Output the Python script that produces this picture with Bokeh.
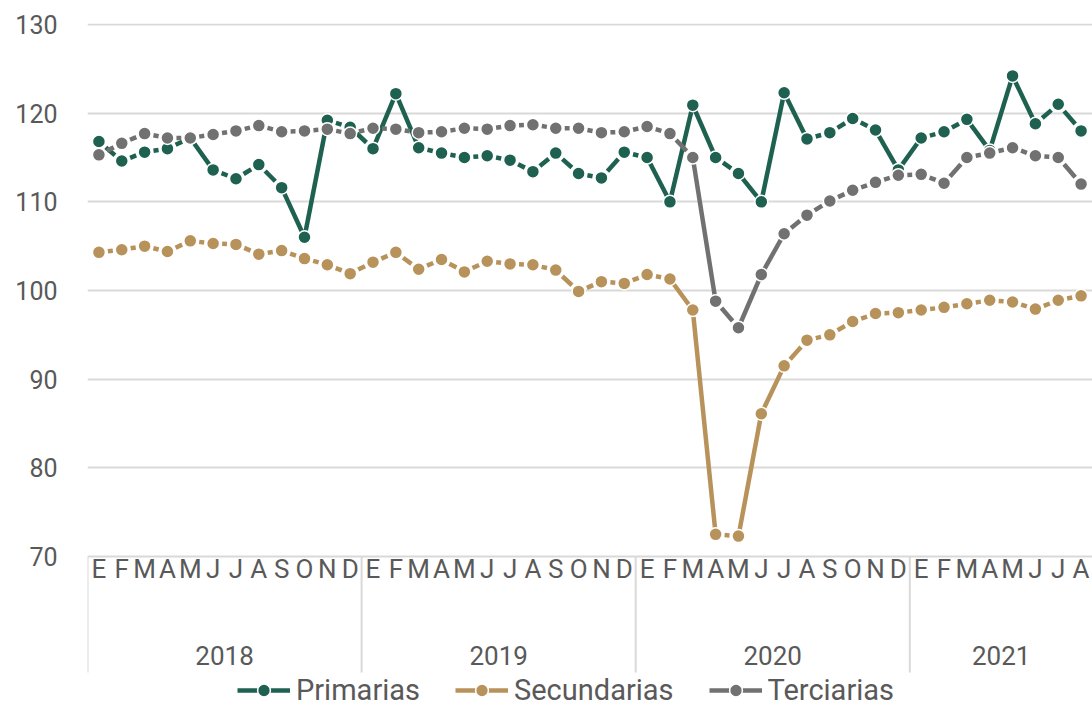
import numpy as np
from bokeh.plotting import figure
from bokeh.models import FixedTicker, Range1d, Legend, LegendItem
from bokeh.core.properties import value
from bokeh.embed import file_html
from bokeh.resources import INLINE

# ---------------- data ----------------
month_letters = ["E", "F", "M", "A", "M", "J", "J", "A", "S", "O", "N", "D"]
years = ["2018", "2019", "2020", "2021"]

primarias = [116.8, 114.6, 115.6, 116.0, 117.2, 113.6, 112.6, 114.2, 111.6, 106.0, 119.2, 118.4,
             116.0, 122.2, 116.1, 115.5, 115.0, 115.2, 114.7, 113.4, 115.5, 113.2, 112.7, 115.6,
             115.0, 110.0, 120.9, 115.0, 113.2, 110.0, 122.3, 117.1, 117.8, 119.4, 118.1, 113.6,
             117.2, 117.9, 119.3, 115.8, 124.2, 118.8, 121.0, 118.0]
secundarias = [104.3, 104.6, 105.0, 104.4, 105.6, 105.3, 105.2, 104.1, 104.5, 103.6, 102.9, 101.9,
               103.2, 104.3, 102.4, 103.5, 102.1, 103.3, 103.0, 102.9, 102.3, 99.9, 101.0, 100.8,
               101.8, 101.3, 97.8, 72.5, 72.3, 86.1, 91.5, 94.4, 95.0, 96.5, 97.4, 97.5,
               97.8, 98.1, 98.5, 98.9, 98.7, 97.9, 98.9, 99.4]
terciarias = [115.3, 116.6, 117.7, 117.2, 117.2, 117.6, 118.0, 118.6, 117.9, 118.0, 118.2, 117.7,
              118.3, 118.2, 117.8, 117.9, 118.3, 118.2, 118.6, 118.7, 118.3, 118.3, 117.8, 117.9,
              118.5, 117.7, 115.0, 98.8, 95.8, 101.8, 106.4, 108.5, 110.1, 111.3, 112.2, 113.0,
              113.1, 112.1, 115.0, 115.5, 116.1, 115.2, 115.0, 112.0]
series_names = ["Primarias", "Secundarias", "Terciarias"]
series_colors = ["#1E6150", "#B8925B", "#717171"]
y_ticks = [70, 80, 90, 100, 110, 120, 130]

# ---------------- layout ----------------
FONT = "Roboto"
TXT = "#595959"
GRID = "#d9d9d9"
W, H = 1092, 707
LEFT, TOP = 87, 23
PLOT_H = 533                      # pixel height from frame top to the 70 line
n = len(primarias)
x_start, x_end = -0.5, n - 0.5
y_min, y_max = y_ticks[0], y_ticks[-1]
px_y = 532 / (y_max - y_min)
top_pad = (PLOT_H - 532) / px_y   # 1px so the 130 gridline is not cut
bottom_px = H - TOP - PLOT_H      # space below the 70 line (kept inside the frame)
y_start = y_min - bottom_px / px_y
px_x = (W - LEFT) / (x_end - x_start)

p = figure(width=W, height=H, x_range=Range1d(x_start, x_end),
           y_range=Range1d(y_start, y_max + top_pad),
           output_backend="svg", toolbar_location=None, x_axis_type=None,
           min_border_left=LEFT, min_border_right=0, min_border_top=TOP, min_border_bottom=0,
           outline_line_color=None, background_fill_color="white")

# y axis
ya = p.yaxis[0]
ya.ticker = FixedTicker(ticks=y_ticks)
ya.axis_line_color = None
ya.major_tick_line_color = None
ya.minor_tick_line_color = None
ya.major_tick_out = 0
ya.major_label_standoff = 30
ya.major_label_text_font = FONT
ya.major_label_text_font_size = "25px"
ya.major_label_text_color = TXT
p.ygrid.ticker = FixedTicker(ticks=y_ticks)
p.ygrid.grid_line_color = GRID
p.ygrid.grid_line_width = 2
p.xgrid.grid_line_color = None

# category axis drawn below the 70 line: month letters, year labels, group separators
month_x = list(range(n))
p.text(x=month_x, y=[y_min] * n, text=[month_letters[i % 12] for i in month_x],
       text_font=value(FONT), text_font_size="26px", text_color=TXT,
       text_align="center", text_baseline="middle", y_offset=12)

sep_x = [x_start + 12 * k for k in range(len(years))]
p.ray(x=sep_x, y=[y_min] * len(sep_x), length=116, length_units="screen",
      angle=-np.pi / 2, line_color=GRID, line_width=2)

year_x = []
for k in range(len(years)):
    a = x_start + 12 * k
    b = min(a + 12, x_end)
    year_x.append((a + b) / 2)
p.text(x=year_x, y=[y_min] * len(years), text=years,
       text_font=value(FONT), text_font_size="26px", text_color=TXT,
       text_align="center", text_baseline="middle", y_offset=99)

# ---------------- series ----------------
def segments(vals):
    xs, ys = [], []
    for i in range(len(vals) - 1):
        x0, x1 = i, i + 1
        y0, y1 = vals[i], vals[i + 1]
        L = np.hypot((x1 - x0) * px_x, (y1 - y0) * px_y)
        if L < 36:
            t = 9.0 / L
            xs.append([x0 + t * (x1 - x0), x1 - t * (x1 - x0)])
            ys.append([y0 + t * (y1 - y0), y1 - t * (y1 - y0)])
        else:
            xs.append([x0, x1])
            ys.append([y0, y1])
    return xs, ys


items = []
for name, vals, col in zip(series_names, [primarias, secundarias, terciarias], series_colors):
    xs, ys = segments(vals)
    ml = p.multi_line(xs, ys, line_color=col, line_width=4.5)
    sc = p.scatter(month_x, vals, size=13, fill_color=col, line_color="white", line_width=1.5)
    items.append(LegendItem(label=name, renderers=[ml, sc]))

legend = Legend(items=items, orientation="horizontal", location=(150, 0),
                label_text_font=FONT, label_text_font_size="29px", label_text_color=TXT,
                glyph_width=53, glyph_height=32, spacing=35, label_standoff=6,
                padding=0, margin=0, border_line_color=None, background_fill_alpha=0)
p.add_layout(legend, "center")

open("out.html", "w").write(file_html(p, INLINE))
